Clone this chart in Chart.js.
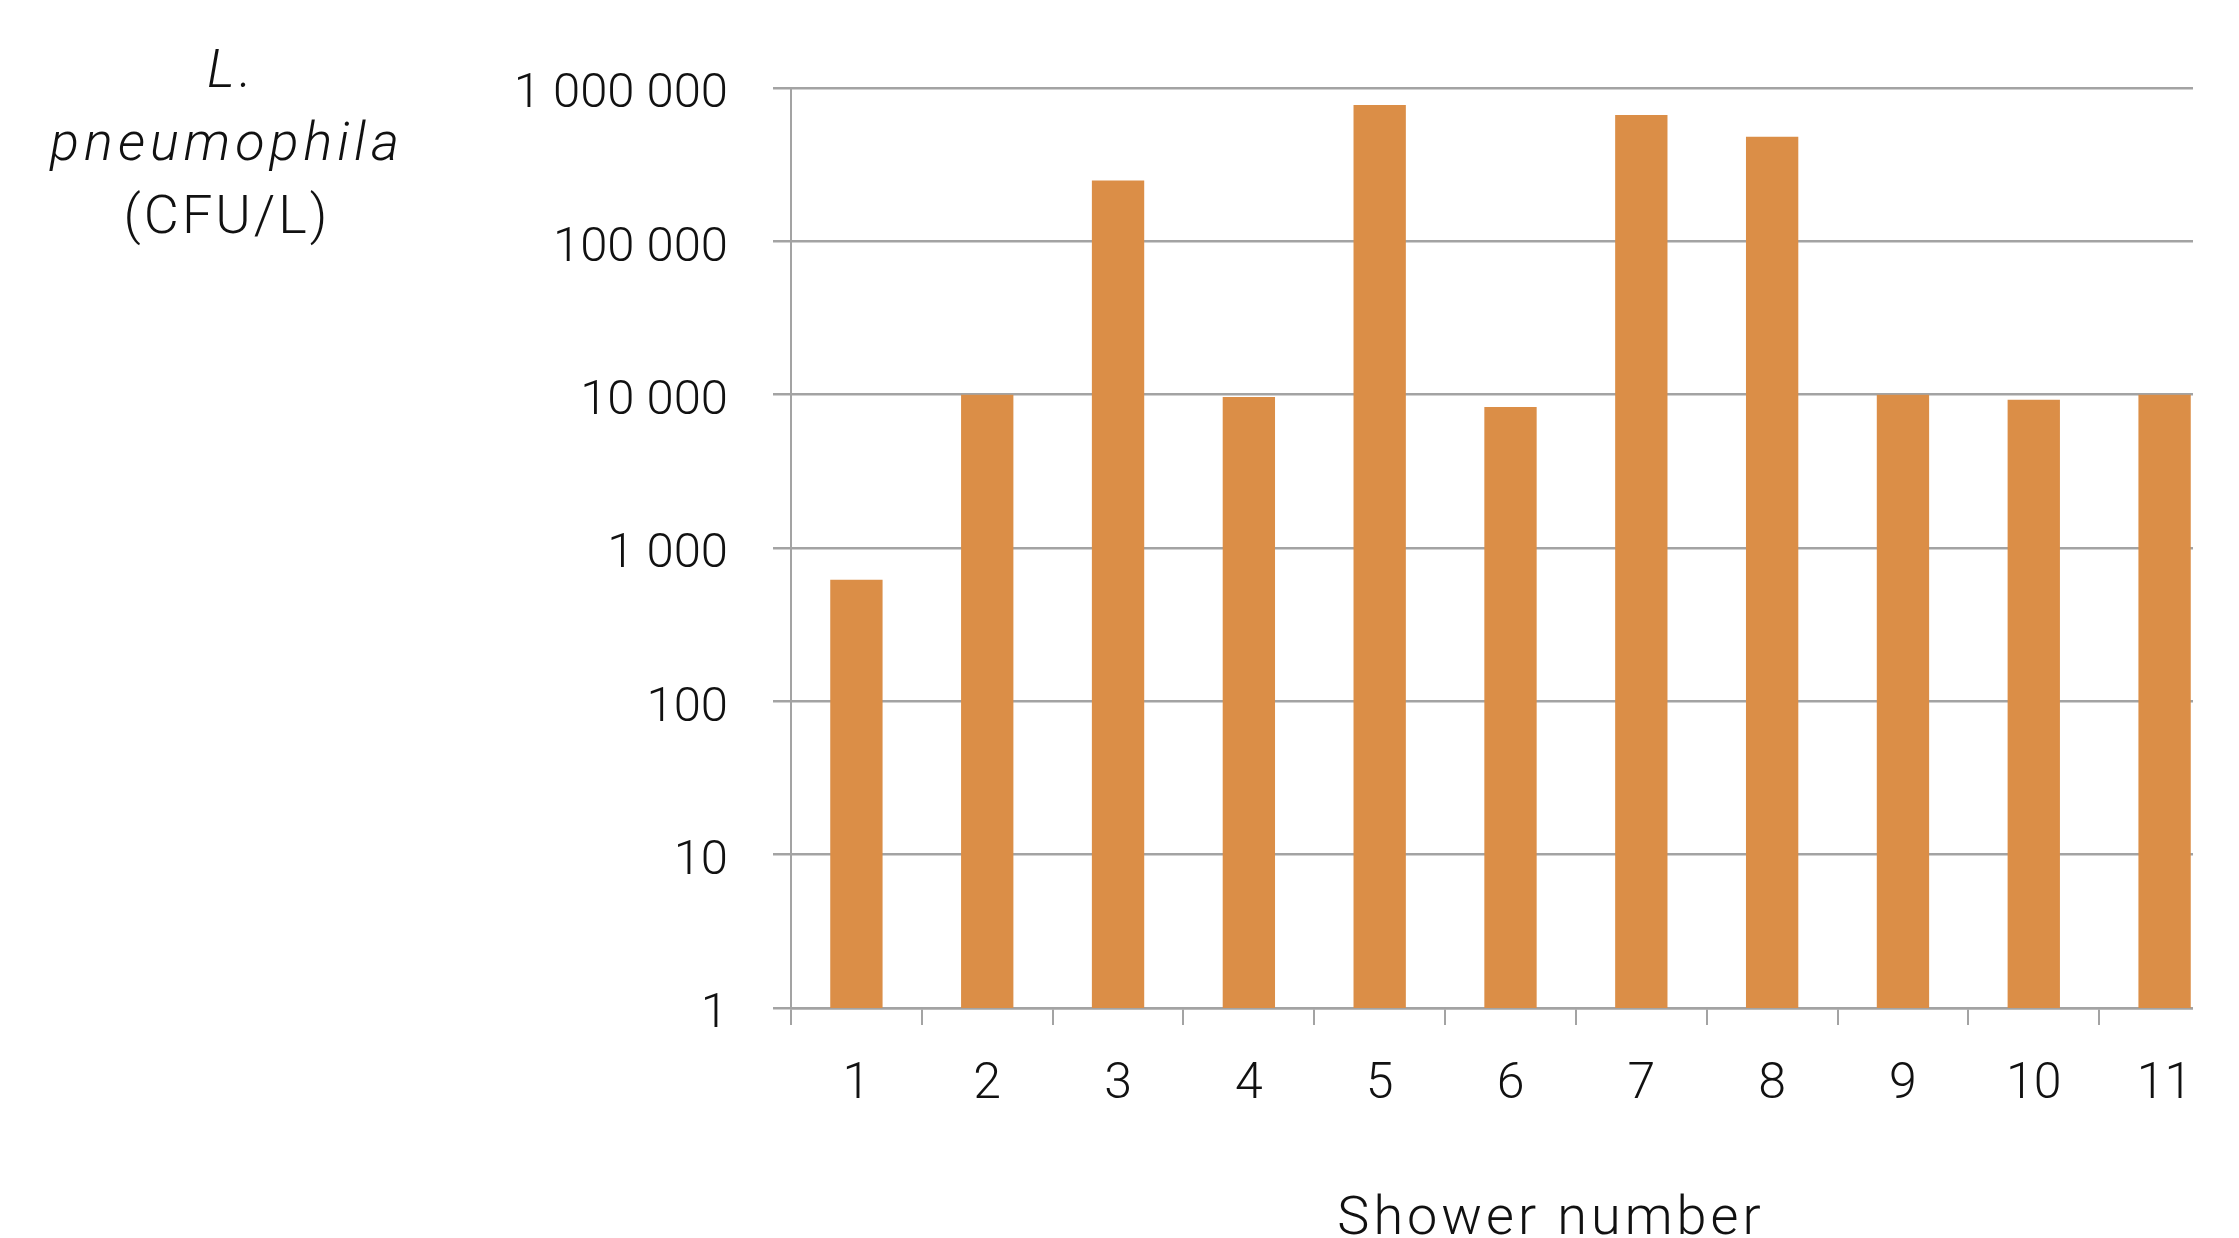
<!DOCTYPE html>
<html>
<head>
<meta charset="utf-8">
<script src="https://cdn.jsdelivr.net/npm/chart.js@4/dist/chart.umd.min.js"></script>
<style>
  html, body { margin: 0; padding: 0; background: #fff; overflow: hidden; }
  #clip { width: 2193px; height: 1238px; overflow: hidden; position: relative; }
  #wrap { width: 2239px; height: 1238px; position: absolute; left: 0; top: 0; }
</style>
</head>
<body>
<div id="clip"><div id="wrap"><canvas id="c"></canvas></div></div>
<script>
// shower numbers on the x axis
const showers = ["1", "2", "3", "4", "5", "6", "7", "8", "9", "10", "11"];
// L. pneumophila counts (CFU/L)
const counts = [620, 10000, 249000, 9660, 774000, 8310, 666000, 481000, 10000, 9280, 10000];
// y tick values shown
const yTicks = [1, 10, 100, 1000, 10000, 100000, 1000000];
const yTitleLines = ["L.", "pneumophila", "(CFU/L)"];
const xTitle = "Shower number";

const barColor = "#db8e47";
const gridColor = "#a3a3a3";

function spaced(v) {
  return String(v).replace(/\B(?=(\d{3})+(?!\d))/g, " ");
}

const titles = {
  id: "titles",
  afterDraw(chart) {
    const ctx = chart.ctx;
    ctx.save();
    ctx.fillStyle = "#111";
    ctx.textAlign = "center";
    ctx.textBaseline = "alphabetic";
    ctx.letterSpacing = "5px";
    ctx.font = "italic 300 54px Roboto";
    ctx.fillText(yTitleLines[0], 232, 87);
    ctx.fillText(yTitleLines[1], 227, 160);
    ctx.letterSpacing = "3px";
    ctx.font = "300 54px Roboto";
    ctx.fillText(yTitleLines[2], 227, 233);
    ctx.letterSpacing = "4px";
    ctx.fillText(xTitle, 1551, 1234);
    ctx.restore();
  }
};

new Chart(document.getElementById("c").getContext("2d"), {
  type: "bar",
  data: {
    labels: showers,
    datasets: [{
      data: counts,
      backgroundColor: barColor,
      barPercentage: 0.4,
      categoryPercentage: 1.0
    }]
  },
  options: {
    responsive: true,
    maintainAspectRatio: false,
    animation: false,
    layout: { padding: { left: 0, right: 9, top: 88, bottom: 0 } },
    plugins: {
      legend: { display: false },
      tooltip: { enabled: false }
    },
    scales: {
      x: {
        grid: { drawOnChartArea: false, offset: true, tickLength: 17, color: gridColor, lineWidth: 2 },
        border: { display: true, color: gridColor, width: 2.5 },
        ticks: {
          color: "#111",
          padding: 30,
          font: { family: "Roboto", weight: "300", size: 50 }
        },
        afterFit(scale) { scale.height = 230; }
      },
      y: {
        type: "logarithmic",
        min: 1,
        max: 1000000,
        afterBuildTicks(scale) {
          scale.ticks = yTicks.map(v => ({ value: v }));
        },
        grid: { color: gridColor, lineWidth: 2.5, tickLength: 18 },
        border: { display: true, color: gridColor, width: 2 },
        ticks: {
          color: "#111",
          padding: 45,
          labelOffset: 7,
          font: { family: "Roboto", weight: "300", size: 49 },
          callback: v => spaced(v)
        },
        afterFit(scale) { scale.width = 791; }
      }
    }
  },
  plugins: [titles]
});
</script>
</body>
</html>
